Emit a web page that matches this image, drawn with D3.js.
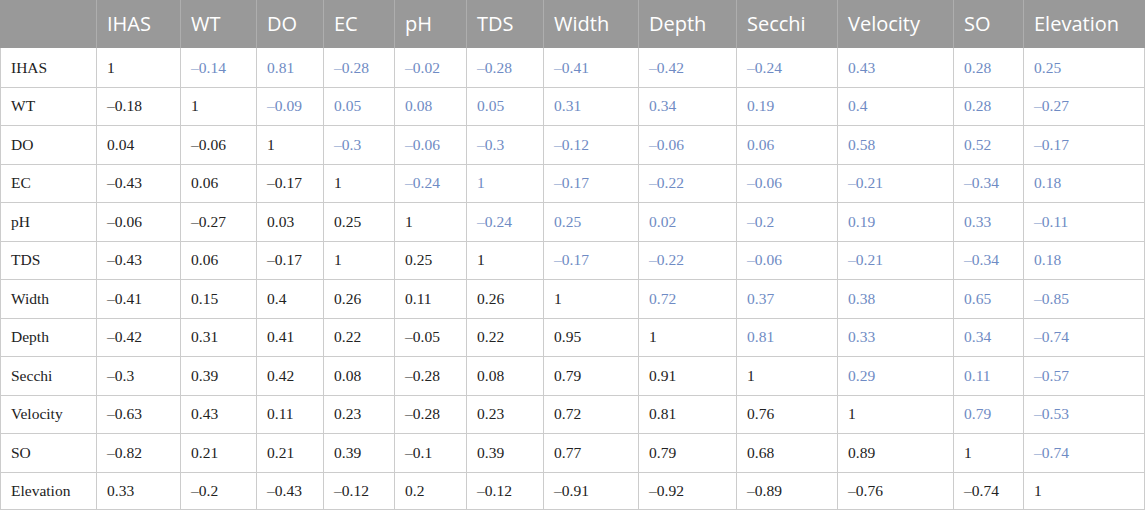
<!DOCTYPE html>
<html>
<head>
<meta charset="utf-8">
<script src="https://cdn.jsdelivr.net/npm/d3@7"></script>
<style>
  html, body { margin: 0; padding: 0; background: #fff; }
  svg { display: block; }
</style>
</head>
<body>
<svg id="chart" width="1145" height="510"></svg>
<script>
// ---- data ----
const variables = ["IHAS","WT","DO","EC","pH","TDS","Width","Depth","Secchi","Velocity","SO","Elevation"];
const rowIHAS      = ["1","–0.14","0.81","–0.28","–0.02","–0.28","–0.41","–0.42","–0.24","0.43","0.28","0.25"];
const rowWT        = ["–0.18","1","–0.09","0.05","0.08","0.05","0.31","0.34","0.19","0.4","0.28","–0.27"];
const rowDO        = ["0.04","–0.06","1","–0.3","–0.06","–0.3","–0.12","–0.06","0.06","0.58","0.52","–0.17"];
const rowEC        = ["–0.43","0.06","–0.17","1","–0.24","1","–0.17","–0.22","–0.06","–0.21","–0.34","0.18"];
const rowPH        = ["–0.06","–0.27","0.03","0.25","1","–0.24","0.25","0.02","–0.2","0.19","0.33","–0.11"];
const rowTDS       = ["–0.43","0.06","–0.17","1","0.25","1","–0.17","–0.22","–0.06","–0.21","–0.34","0.18"];
const rowWidth     = ["–0.41","0.15","0.4","0.26","0.11","0.26","1","0.72","0.37","0.38","0.65","–0.85"];
const rowDepth     = ["–0.42","0.31","0.41","0.22","–0.05","0.22","0.95","1","0.81","0.33","0.34","–0.74"];
const rowSecchi    = ["–0.3","0.39","0.42","0.08","–0.28","0.08","0.79","0.91","1","0.29","0.11","–0.57"];
const rowVelocity  = ["–0.63","0.43","0.11","0.23","–0.28","0.23","0.72","0.81","0.76","1","0.79","–0.53"];
const rowSO        = ["–0.82","0.21","0.21","0.39","–0.1","0.39","0.77","0.79","0.68","0.89","1","–0.74"];
const rowElevation = ["0.33","–0.2","–0.43","–0.12","0.2","–0.12","–0.91","–0.92","–0.89","–0.76","–0.74","1"];

const rows = [rowIHAS,rowWT,rowDO,rowEC,rowPH,rowTDS,rowWidth,rowDepth,rowSecchi,rowVelocity,rowSO,rowElevation];

// ---- layout ----
const W = 1145, H = 510, headerH = 48;
const colWidths = [96,84,76,67,71,72,77,95,98,101,116,70,122];
const colEdges = [0];
colWidths.forEach(w => colEdges.push(colEdges[colEdges.length-1] + w));
const columns = ["", ...variables];
const x = d3.scaleOrdinal().domain(columns).range(colEdges.slice(0, -1));
const y = d3.scaleLinear().domain([0, variables.length]).range([headerH, H]);
const rowH = y(1) - y(0);
const pad = 11;

const svg = d3.select("#chart");

// header background
svg.append("rect").attr("x", 0).attr("y", 0).attr("width", W).attr("height", headerH).attr("fill", "#999999");

// header vertical lines
svg.selectAll("line.hv").data(colEdges.slice(1, -1)).enter().append("line")
  .attr("x1", d => d + 0.5).attr("x2", d => d + 0.5)
  .attr("y1", 0).attr("y2", headerH)
  .attr("stroke", "#aeaeae").attr("stroke-width", 1);

// body grid lines
svg.selectAll("line.bv").data(colEdges).enter().append("line")
  .attr("x1", d => Math.min(d, W - 1) + 0.5).attr("x2", d => Math.min(d, W - 1) + 0.5)
  .attr("y1", headerH).attr("y2", H)
  .attr("stroke", "#cccccc").attr("stroke-width", 1);
svg.selectAll("line.bh").data(d3.range(1, variables.length + 1)).enter().append("line")
  .attr("x1", 0).attr("x2", W)
  .attr("y1", d => Math.min(Math.round(y(d)), H - 1) + 0.5).attr("y2", d => Math.min(Math.round(y(d)), H - 1) + 0.5)
  .attr("stroke", "#cccccc").attr("stroke-width", 1);

// header text
svg.selectAll("text.head").data(variables).enter().append("text")
  .attr("x", d => x(d) + pad)
  .attr("y", headerH / 2 + 7)
  .attr("fill", "#ffffff")
  .attr("font-family", "'Open Sans', 'Noto Sans', sans-serif")
  .attr("font-size", 20)
  .text(d => d);

// row labels
svg.selectAll("text.rl").data(variables).enter().append("text")
  .attr("x", pad)
  .attr("y", (d, i) => y(i) + rowH / 2 + 5.5)
  .attr("fill", "#222222")
  .attr("font-family", "'Liberation Serif', 'DejaVu Serif', serif")
  .attr("font-size", 15.5)
  .text(d => d);

// cells
const cells = [];
rows.forEach((r, i) => r.forEach((v, j) => cells.push({ i, j, v })));
svg.selectAll("text.cell").data(cells).enter().append("text")
  .attr("x", d => x(variables[d.j]) + pad)
  .attr("y", d => y(d.i) + rowH / 2 + 5.5)
  .attr("fill", d => d.j > d.i ? "#6f8bc4" : "#222222")
  .attr("font-family", "'Liberation Serif', 'DejaVu Serif', serif")
  .attr("font-size", 15.5)
  .text(d => d.v);
</script>
</body>
</html>
